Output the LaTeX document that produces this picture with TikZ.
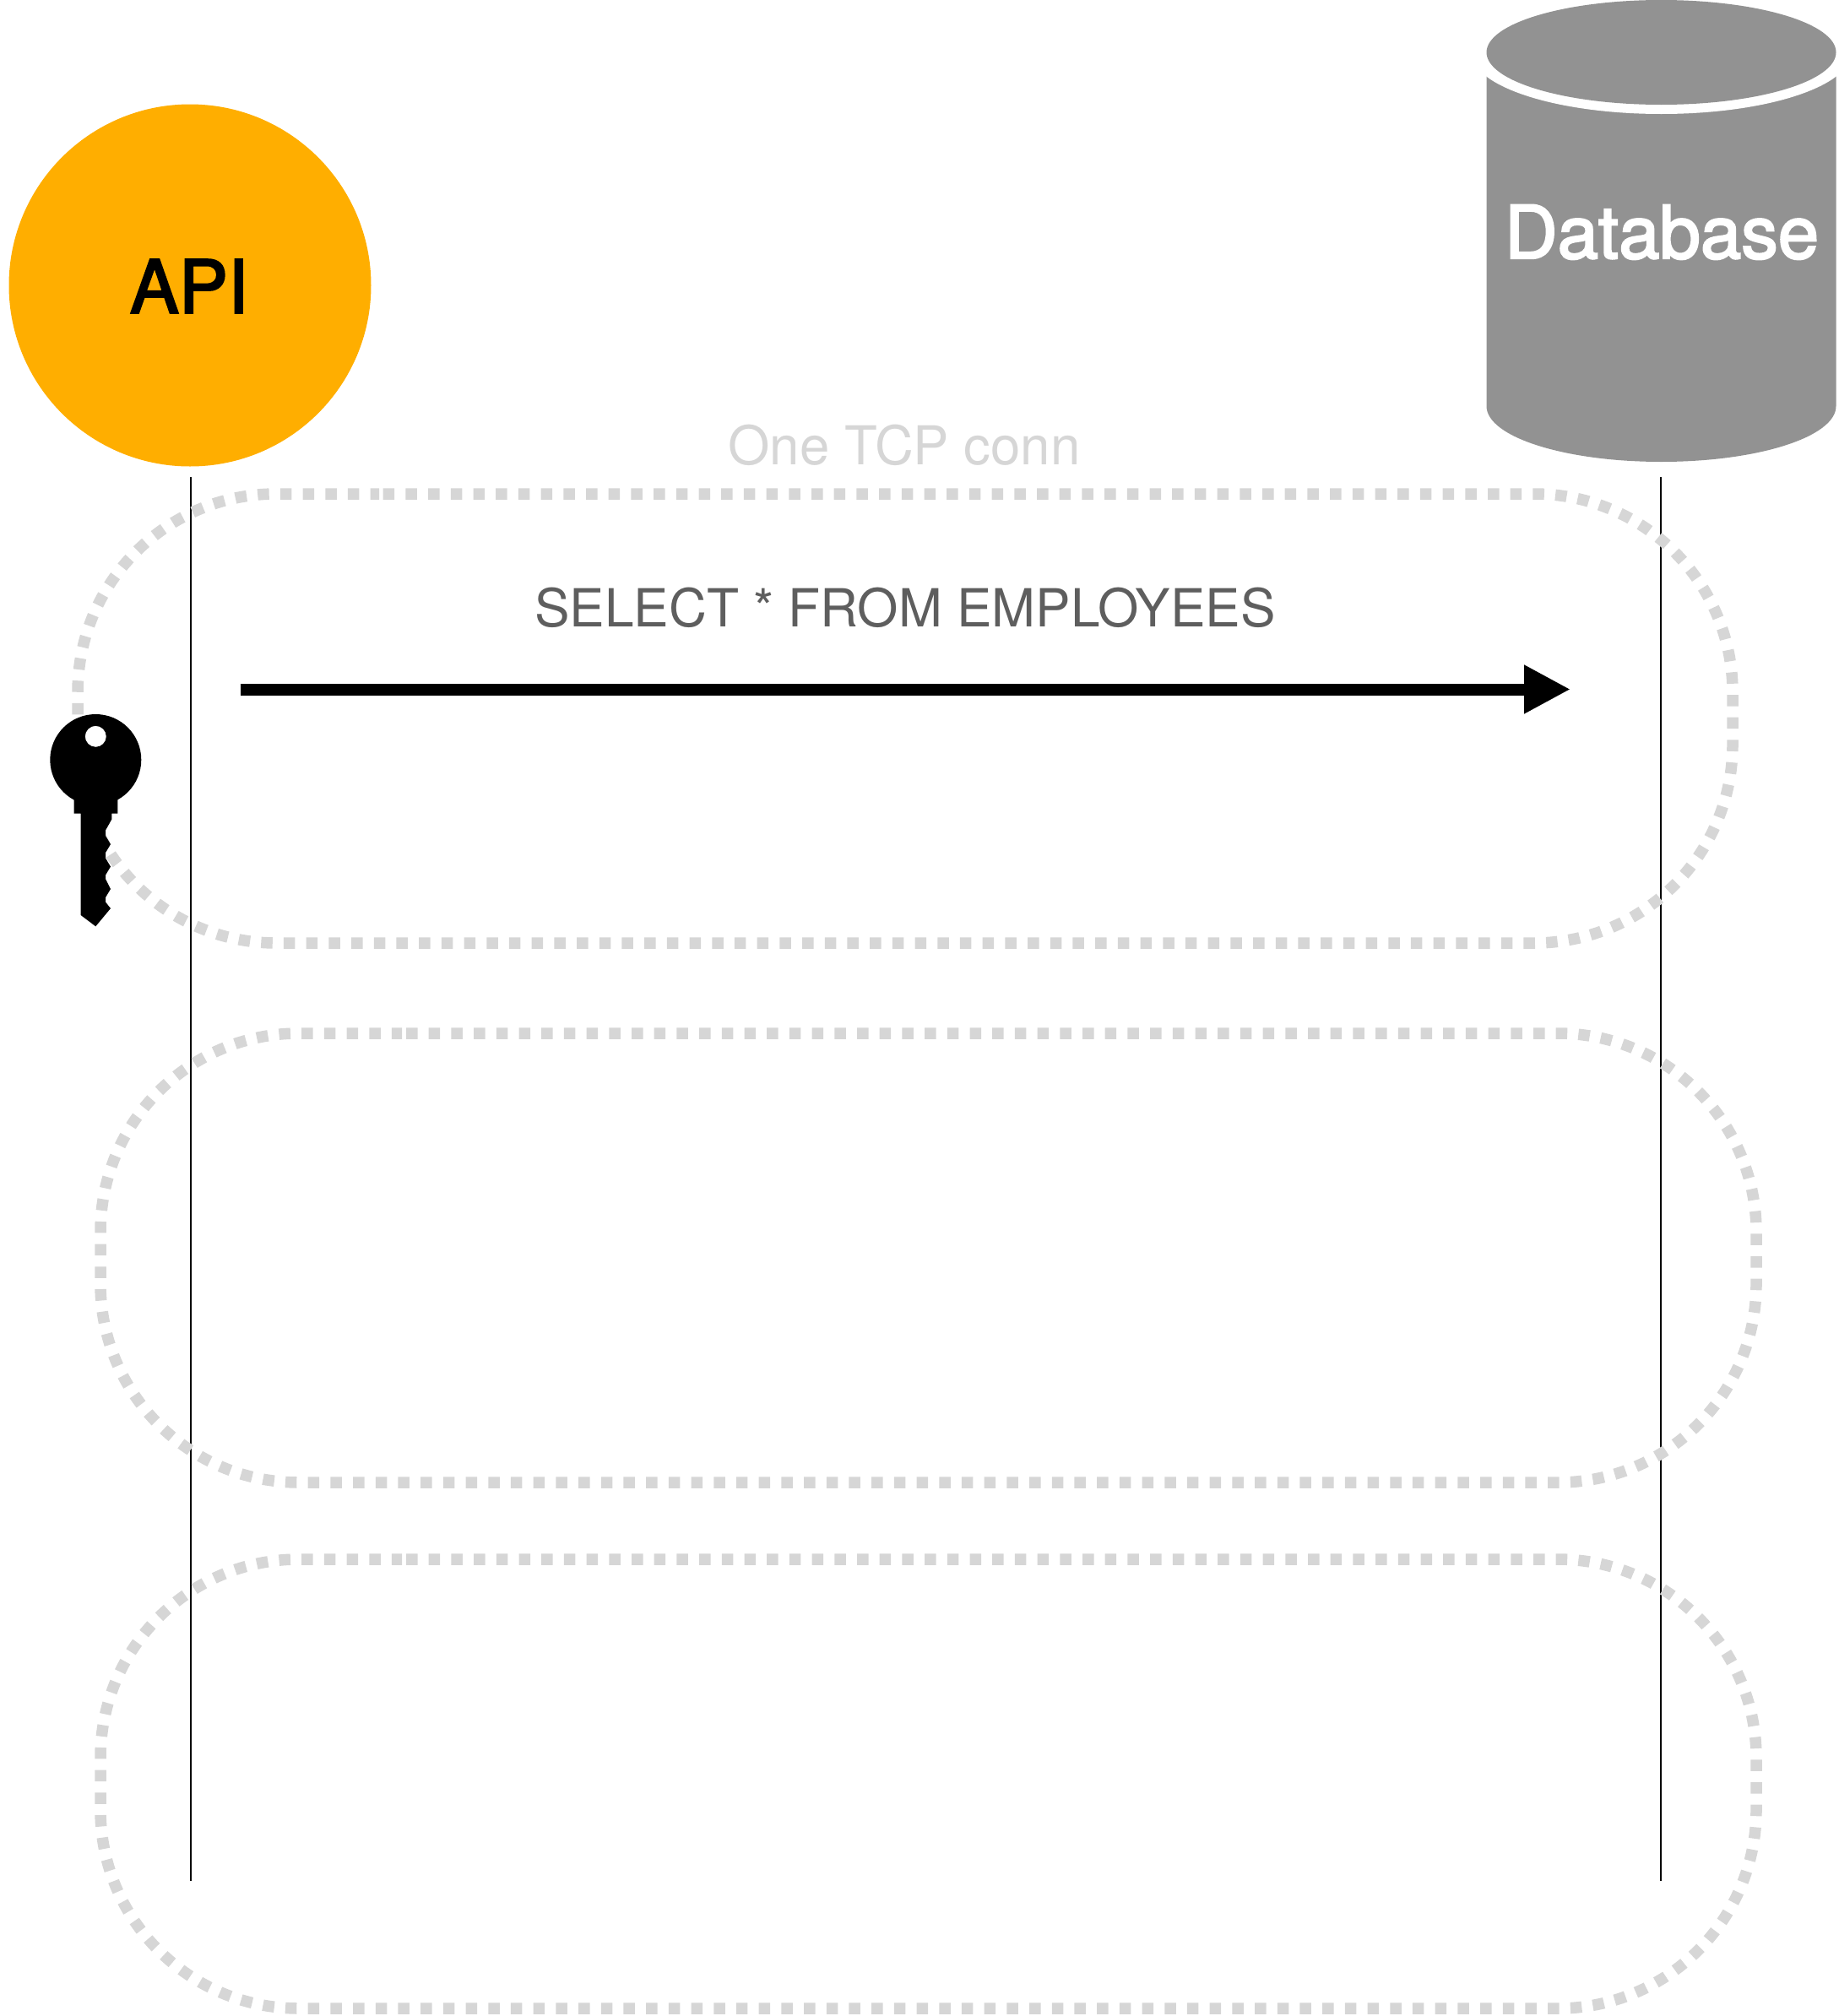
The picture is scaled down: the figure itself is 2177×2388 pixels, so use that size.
\documentclass[tikz,border=0pt]{standalone}
\usepackage{fontspec}
\setmainfont{TeX Gyre Heros}
\newfontfamily\medfont[FakeBold=2.5]{TeX Gyre Heros}
\usetikzlibrary{arrows.meta}
\definecolor{apiorange}{HTML}{FFAE00}
\definecolor{dbgray}{HTML}{929292}
\definecolor{dotgray}{HTML}{D6D6D6}
\definecolor{labelgray}{HTML}{5E5E5E}
\tikzset{
  x=1pt,y=-1pt,
  lifeline/.style={draw=black,line width=2.5pt},
  connbox/.style={draw=dotgray,line width=13.5pt,dash pattern=on 13.5pt off 13.2pt,rounded corners=235pt},
  msgarrow/.style={draw=black,line width=14pt,-{Triangle[length=55pt,width=54pt]}},
  title/.style={inner sep=0pt,font=\fontsize{87}{87}\selectfont\medfont},
}
\begin{document}
\begin{tikzpicture}
\useasboundingbox (0,0) rectangle (2177,2388);
% API
\node[circle,fill=apiorange,minimum size=429pt,inner sep=0pt] (api) at (225,338) {};
\node[title,text=black] (apilabel) at (224,339) {API};
% Database
\fill[dbgray] (1760.5,62) -- (2174.5,62) -- (2174.5,481) arc[start angle=0,end angle=180,x radius=207,y radius=66] -- cycle;
\fill[white] (1967.5,62) ellipse[x radius=225,y radius=73];
\fill[dbgray] (1967.5,62) ellipse[x radius=207,y radius=62];
\node[title,text=white] (dblabel) at (1968,275) {Database};
\node[inner sep=0pt,text=dotgray,font=\fontsize{63.5}{63.5}\selectfont] (conn) at (1071,527) {One TCP conn};
% lifelines
\coordinate (apitop) at (226,565);
\coordinate (apibot) at (226,2228);
\coordinate (dbtop) at (1967,565);
\coordinate (dbbot) at (1967,2228);
\draw[lifeline] (apitop) -- (apibot);
\draw[lifeline] (dbtop) -- (dbbot);
% connection boxes
\draw[connbox] (453.7,585) -- (2052,585) -- (2052,1117) -- (92,1117) -- (92,585) -- (449,585);
\draw[connbox] (481,1224) -- (2080,1224) -- (2080,1756) -- (119,1756) -- (119,1224) -- (476,1224);
\draw[connbox] (481,1847) -- (2080,1847) -- (2080,2379) -- (119,2379) -- (119,1847) -- (476,1847);
% message
\node[inner sep=0pt,text=labelgray,font=\fontsize{62.2}{62.2}\selectfont] (msg) at (1072,720) {SELECT * FROM EMPLOYEES};
\coordinate (msgfrom) at (284.5,816.5);
\coordinate (msgto) at (1860,816.5);
\draw[msgarrow] (msgfrom) -- (msgto);
% key
\fill[black,even odd rule]
  (113.3,900) circle[radius=54]
  (113.3,872.3) circle[radius=12.5];
\fill[black] (92,930) -- (87.7,945) -- (87.7,963.5) -- (95.7,963.5) -- (95.7,1084) -- (113.3,1097.3)
  -- (131,1076) -- (125,1068.5) -- (125,1063) -- (131,1053) -- (125,1041) -- (125,1036.5) -- (131,1026.5)
  -- (125,1016.5) -- (125,1010) -- (131,1000) -- (125,990) -- (125,983.5) -- (132.3,970.5) -- (132.3,963.5)
  -- (139.3,963.5) -- (139.3,945) -- (135,930) -- cycle;
\end{tikzpicture}
\end{document}
